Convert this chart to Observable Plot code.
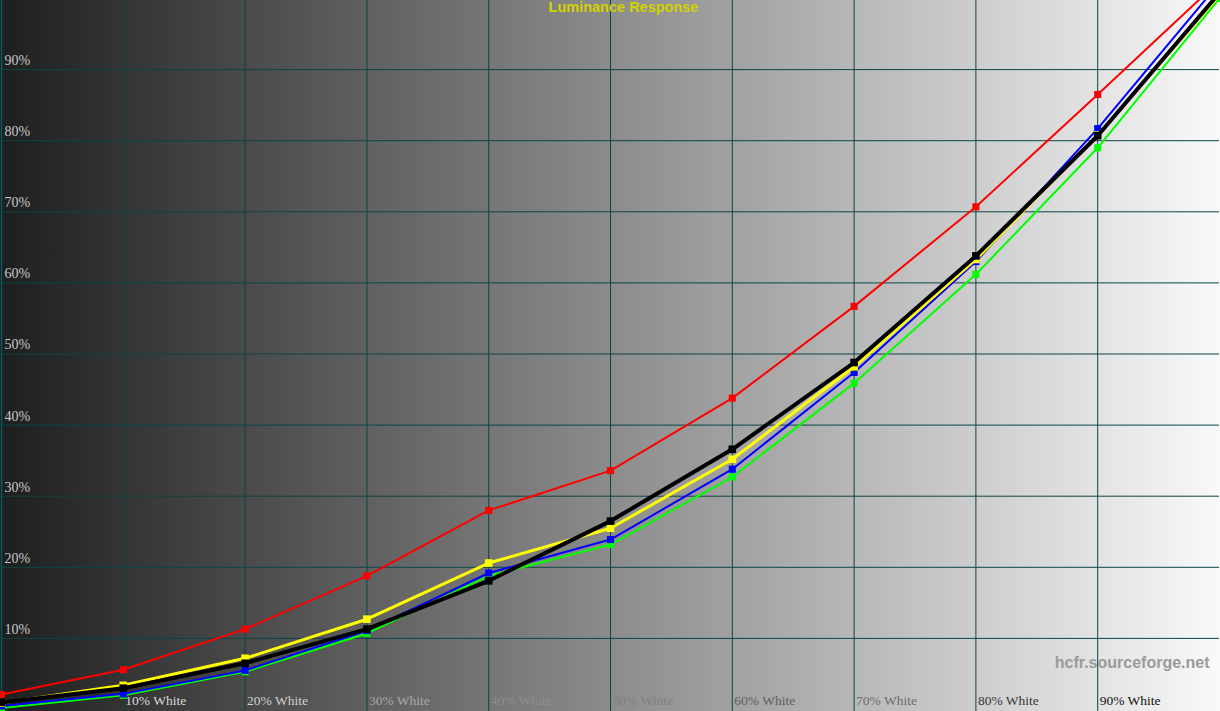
<!DOCTYPE html>
<html>
<head>
<meta charset="utf-8">
<script src="https://cdn.jsdelivr.net/npm/d3@7"></script>
<script src="https://cdn.jsdelivr.net/npm/@observablehq/plot@0.6"></script>
<style>
  html, body { margin: 0; padding: 0; background: #000; overflow: hidden; }
  #chart svg { display: block; }
</style>
</head>
<body>
<div id="chart"></div>
<script>
// Stimulus levels (% white)
const levels = [0, 10, 20, 30, 40, 50, 60, 70, 80, 90, 100];
// Luminance response values (%)
const redValues    = [2.1, 5.6, 11.3, 18.8, 28.0, 33.6, 43.8, 56.7, 70.7, 86.5, 102.5];
const greenValues  = [0.2, 2.0, 5.3, 10.7, 18.8, 23.2, 32.7, 45.9, 61.2, 79.0, 100.0];
const blueValues   = [0.5, 2.2, 5.5, 11.1, 19.2, 23.9, 33.8, 47.4, 63.0, 81.7, 102.2];
const targetValues = [0.9, 3.4, 7.2, 12.7, 20.6, 25.5, 35.2, 48.2, 63.3, 80.8, 100.5];
const measValues   = [1.0, 3.0, 6.5, 11.3, 18.1, 26.5, 36.6, 48.8, 63.8, 80.7, 100.8];
// Tick labels
const xTicks = [10, 20, 30, 40, 50, 60, 70, 80, 90];
const xTickLabels = xTicks.map(d => `${d}% White`);
const yTicks = [10, 20, 30, 40, 50, 60, 70, 80, 90];
const yTickLabels = yTicks.map(d => `${d}%`);
const titleText = "Luminance Response";
const watermarkText = "hcfr.sourceforge.net";

// styling
const xLabelColor = d3.scaleLinear()
  .domain([10, 20, 30, 40, 50, 60, 70, 80, 90])
  .range(["#d8d8d8", "#d0d0d0", "#a8a8a8", "#8e8e8e", "#808080", "#606060", "#6c6c6c", "#383838", "#101010"]);

const toRows = vals => levels.map((x, i) => ({x, y: vals[i]}));
const red = toRows(redValues), green = toRows(greenValues), blue = toRows(blueValues);
const target = toRows(targetValues), meas = toRows(measValues);

const grid = "#0a4646";
const serif = "Liberation Serif, Times New Roman, serif";
const sans = "Liberation Sans, Arial, sans-serif";

const chart = Plot.plot({
  width: 1220,
  height: 711,
  marginLeft: 1, marginRight: 1, marginTop: 0, marginBottom: 0,
  style: {background: "linear-gradient(to right, #1e1e1e, #f9f9f9)", overflow: "hidden"},
  x: {domain: [0, 100], axis: null},
  y: {domain: [0, 100], range: [709, -2], axis: null},
  marks: [
    Plot.ruleX(xTicks, {x: d => d, stroke: grid, strokeWidth: 1}),
    Plot.ruleY(yTicks, {y: d => d, stroke: grid, strokeWidth: 1}),
    Plot.ruleX([0], {stroke: "#0a5a5a", strokeWidth: 1.5}),
    // y tick labels
    Plot.text(yTicks, {y: d => d, text: (d, i) => yTickLabels[i], frameAnchor: "left", dx: 3, dy: -9,
      textAnchor: "start", fill: "#c8c8c8", fontSize: 14, fontFamily: serif}),
    // x tick labels
    Plot.text(xTicks, {x: d => d, text: (d, i) => xTickLabels[i], frameAnchor: "bottom", dx: 2, dy: -7,
      textAnchor: "start", fill: d => xLabelColor(d), fontSize: 13.5, fontFamily: serif}),
    // title
    Plot.text([titleText], {text: d => d, frameAnchor: "top", dx: 13, dy: 7, lineAnchor: "middle",
      fill: "#d2d200", fontWeight: "bold", fontSize: 14.5, fontFamily: sans}),
    // watermark
    Plot.text([watermarkText], {text: d => d, frameAnchor: "bottom-right", dx: -10, dy: -49, lineAnchor: "middle",
      textAnchor: "end", fill: "#9a9a9a", fontWeight: "bold", fontSize: 16, fontFamily: sans}),
    // series
    Plot.line(red, {x: "x", y: "y", stroke: "#ff0000", strokeWidth: 2}),
    Plot.dot(red, {x: "x", y: "y", symbol: "square", r: 4, fill: "#ff0000"}),
    Plot.line(green, {x: "x", y: "y", stroke: "#00ff00", strokeWidth: 2}),
    Plot.dot(green, {x: "x", y: "y", symbol: "square", r: 4, fill: "#00ff00"}),
    Plot.line(blue, {x: "x", y: "y", stroke: "#0000ff", strokeWidth: 2}),
    Plot.dot(blue, {x: "x", y: "y", symbol: "square", r: 4, fill: "#0000ff"}),
    Plot.line(target, {x: "x", y: "y", stroke: "#ffff00", strokeWidth: 3}),
    Plot.dot(target, {x: "x", y: "y", symbol: "square", r: 4.3, fill: "#ffff00"}),
    Plot.line(meas, {x: "x", y: "y", stroke: "#000000", strokeWidth: 4}),
    Plot.dot(meas, {x: "x", y: "y", symbol: "square", r: 4.3, fill: "#000000"})
  ]
});
document.getElementById("chart").appendChild(chart);
</script>
</body>
</html>
